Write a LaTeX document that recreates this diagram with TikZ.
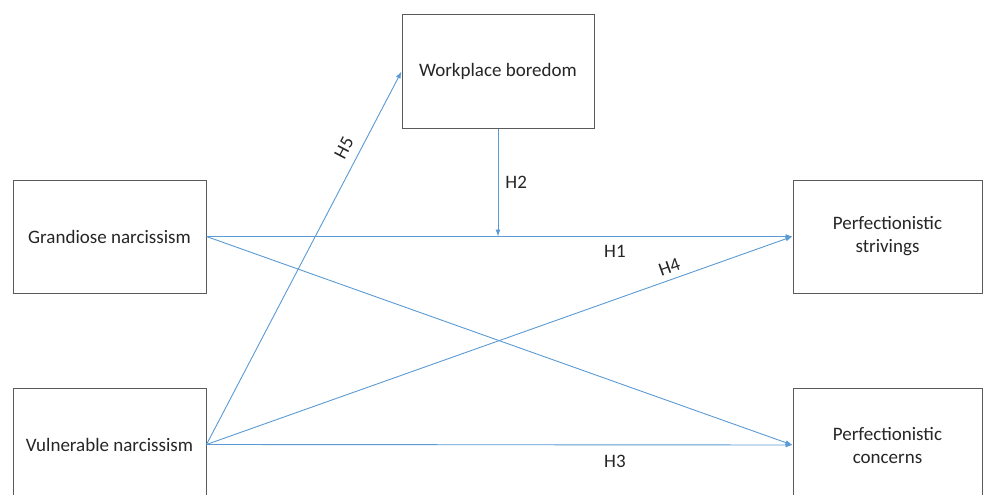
\documentclass[tikz,border=0pt]{standalone}
\usepackage{fontspec}
\setmainfont{Carlito}
\usetikzlibrary{arrows.meta}
\definecolor{arrowblue}{RGB}{91,155,213}
\definecolor{txt}{RGB}{38,38,38}
\definecolor{boxline}{RGB}{90,90,90}
\tikzset{
  varbox/.style={draw=boxline, line width=1pt, fill=white, text=txt, align=center,
    font=\fontsize{19}{23}\selectfont, inner sep=0pt},
  path/.style={draw=arrowblue, line width=0.9pt, -{Latex[length=7pt,width=5pt]}},
  hlab/.style={text=txt, font=\fontsize{19}{23}\selectfont, inner sep=1pt}
}
\begin{document}
\begin{tikzpicture}[x=1pt,y=-1pt]
\useasboundingbox (0,0) rectangle (986,495);
\clip (0,0) rectangle (986,495);
\fill[white] (0,0) rectangle (986,495);
\node[varbox, minimum width=193pt, minimum height=113pt] (gn) at (109.5,236.5) {Grandiose narcissism};
\node[varbox, minimum width=193pt, minimum height=113pt] (vn) at (109.5,444.5) {Vulnerable narcissism};
\node[varbox, minimum width=192pt, minimum height=113pt] (wb) at (498,71.5) {Workplace boredom};
\node[varbox, minimum width=189pt, minimum height=113pt] (ps) at (887.5,236.5) {Perfectionistic\\strivings};
\node[varbox, minimum width=189pt, minimum height=114pt] (pc) at (887.5,445) {Perfectionistic\\concerns};
\coordinate (mod) at (498,236.5);
\draw[path] (gn.east) -- node[hlab, below=7pt, pos=0.697] (h1) {H1} (ps.west);
\draw[path] (gn.east) -- (pc.west);
\draw[path] (vn.east) -- node[hlab, sloped, above=5pt, pos=0.797] (h4) {H4} (ps.west);
\draw[path] (vn.east) -- node[hlab, below=9pt, pos=0.697] (h3) {H3} (pc.west);
\draw[path] (vn.east) -- node[hlab, sloped, above=8pt, pos=0.776] (h5) {H5} (wb.west);
\draw[path] (wb.south) -- node[hlab, right=6pt] (h2) {H2} (mod);
\end{tikzpicture}
\end{document}
